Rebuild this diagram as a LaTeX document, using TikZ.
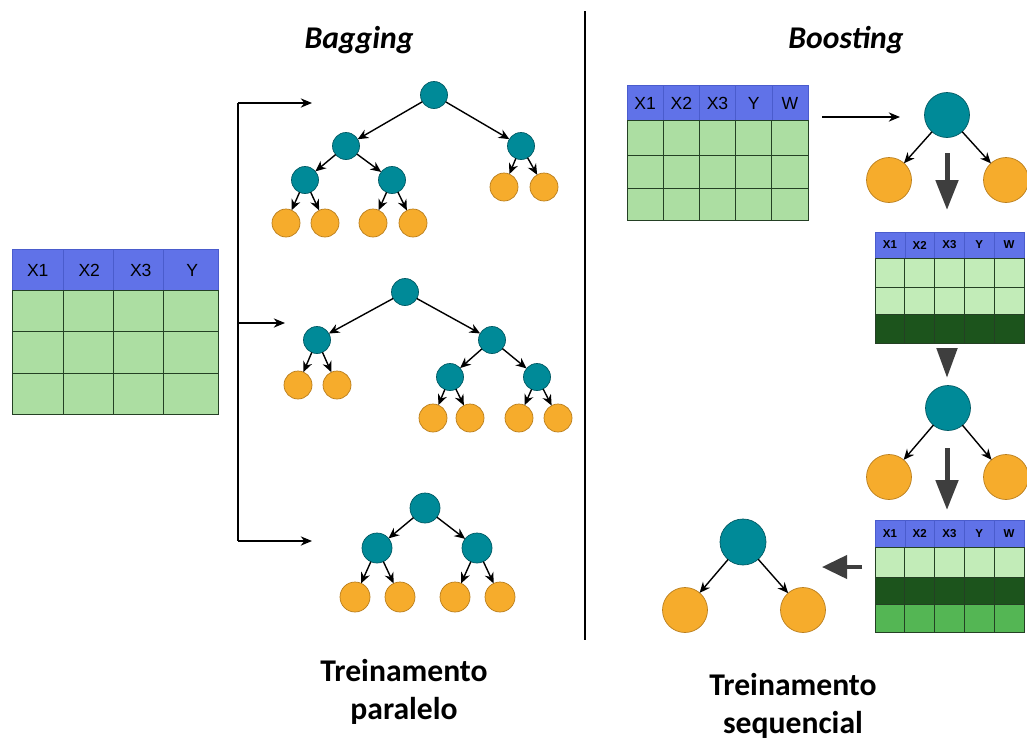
\documentclass[tikz,border=0pt]{standalone}
\usepackage{fontspec}
\setmainfont{Carlito}
\newfontfamily\hdrfont{Liberation Sans}
\usetikzlibrary{arrows.meta,positioning}
\definecolor{hdrblue}{RGB}{96,114,232}
\definecolor{hdrline}{RGB}{74,92,205}
\definecolor{cellgreen}{RGB}{172,222,162}
\definecolor{palegreen}{RGB}{194,236,184}
\definecolor{darkgreen}{RGB}{28,84,28}
\definecolor{midgreen}{RGB}{84,182,84}
\definecolor{rulegreen}{RGB}{36,64,36}
\definecolor{tealnode}{RGB}{0,138,152}
\definecolor{tealline}{RGB}{0,90,100}
\definecolor{leaforange}{RGB}{246,172,44}
\definecolor{leafline}{RGB}{186,126,28}
\definecolor{arrowgray}{RGB}{62,62,62}
\tikzset{
  split/.style={circle,draw=tealline,fill=tealnode,line width=0.6pt,
                minimum size=8.1mm,inner sep=0pt,outer sep=0pt},
  leaf/.style={circle,draw=leafline,fill=leaforange,line width=0.6pt,
               minimum size=8.4mm,inner sep=0pt,outer sep=0pt},
  treearrow/.style={-{Stealth[length=3.2mm,width=2.8mm]},line width=1.2pt},
  flowarrow/.style={-{Stealth[length=3.4mm,width=2.8mm]},line width=1.1pt},
  bigarrow/.style={-{Triangle[length=9mm,width=6.6mm]},line width=1.5mm,draw=arrowgray},
  hdr/.style={font=\hdrfont\fontsize{15}{15}\selectfont,inner sep=0pt},
  hdrsmall/.style={font=\hdrfont\bfseries\fontsize{9.8}{10}\selectfont,inner sep=0pt},
  cellrule/.style={draw=rulegreen,line width=0.7pt},
  title/.style={font=\bfseries\itshape\fontsize{27}{32}\selectfont},
  caption/.style={font=\bfseries\fontsize{27}{33}\selectfont,align=center}
}

\begin{document}
\begin{tikzpicture}[x=0.3mm,y=-0.3mm]
  \useasboundingbox[fill=white] (0,0) rectangle (1027,740);

  % Titles and divider
  \node[title] (bagging) at (359,40) {Bagging};
  \node[title] (boosting) at (846,40) {Boosting};
  \draw[line width=1pt] (585,11) -- (585,640);

  % Training data (bagging)
  \fill[hdrblue] (12,249) rectangle (218,290);
  \fill[cellgreen] (12,290) rectangle (218,414);
  \foreach \x in {63,113,163} \draw[hdrline] (\x,249) -- (\x,290);
  \foreach \x in {63,113,163} \draw[cellrule] (\x,290) -- (\x,414);
  \foreach \y in {331,373} \draw[cellrule] (12,\y) -- (218,\y);
  \draw[hdrline] (12,249) rectangle (218,290);
  \draw[cellrule] (12,290) rectangle (218,414);
  \foreach \t [count=\i] in {X1,X2,X3,Y}
    \node[hdr] (dh\i) at ({12+51.5*(\i-0.5)},270) {\t};

  % Bracket to the three trees
  \coordinate (btop) at (238,103);
  \coordinate (bmid) at (238,323);
  \coordinate (bbot) at (238,541);
  \coordinate (etop) at (312,103);
  \coordinate (emid) at (285,323);
  \coordinate (ebot) at (312,541);
  \draw[line width=1.1pt] (btop) -- (bbot);
  \draw[flowarrow] (btop) -- (etop);
  \draw[flowarrow] (bmid) -- (emid);
  \draw[flowarrow] (bbot) -- (ebot);

  % Tree 1
  \node[split] (r1) at (434,95) {};
  \node[split] (s1a) at (346,146) {};
  \node[split] (s1b) at (521,146) {};
  \node[split] (s1c) at (305,180) {};
  \node[split] (s1d) at (392,180) {};
  \node[leaf] (l1a) at (286,223) {};
  \node[leaf] (l1b) at (325,223) {};
  \node[leaf] (l1c) at (373,223) {};
  \node[leaf] (l1d) at (413,223) {};
  \node[leaf] (l1e) at (504,187) {};
  \node[leaf] (l1f) at (544,187) {};
  \draw[treearrow] (r1) -- (s1a);
  \draw[treearrow] (r1) -- (s1b);
  \draw[treearrow] (s1a) -- (s1c);
  \draw[treearrow] (s1a) -- (s1d);
  \draw[treearrow] (s1c) -- (l1a);
  \draw[treearrow] (s1c) -- (l1b);
  \draw[treearrow] (s1d) -- (l1c);
  \draw[treearrow] (s1d) -- (l1d);
  \draw[treearrow] (s1b) -- (l1e);
  \draw[treearrow] (s1b) -- (l1f);

  % Tree 2
  \node[split] (r2) at (405,292) {};
  \node[split] (s2a) at (317,340) {};
  \node[split] (s2b) at (492,340) {};
  \node[split] (s2c) at (450,377) {};
  \node[split] (s2d) at (537,377) {};
  \node[leaf] (l2a) at (298,385) {};
  \node[leaf] (l2b) at (337,385) {};
  \node[leaf] (l2c) at (433,418) {};
  \node[leaf] (l2d) at (470,418) {};
  \node[leaf] (l2e) at (519,418) {};
  \node[leaf] (l2f) at (558,418) {};
  \draw[treearrow] (r2) -- (s2a);
  \draw[treearrow] (r2) -- (s2b);
  \draw[treearrow] (s2a) -- (l2a);
  \draw[treearrow] (s2a) -- (l2b);
  \draw[treearrow] (s2b) -- (s2c);
  \draw[treearrow] (s2b) -- (s2d);
  \draw[treearrow] (s2c) -- (l2c);
  \draw[treearrow] (s2c) -- (l2d);
  \draw[treearrow] (s2d) -- (l2e);
  \draw[treearrow] (s2d) -- (l2f);

  % Tree 3
  \node[split, minimum size=9mm] (r3) at (425,508) {};
  \node[split, minimum size=9mm] (s3a) at (377,548) {};
  \node[split, minimum size=9mm] (s3b) at (477,548) {};
  \node[leaf, minimum size=9mm] (l3a) at (355,597) {};
  \node[leaf, minimum size=9mm] (l3b) at (400,597) {};
  \node[leaf, minimum size=9mm] (l3c) at (455,597) {};
  \node[leaf, minimum size=9mm] (l3d) at (500,597) {};
  \draw[treearrow] (r3) -- (s3a);
  \draw[treearrow] (r3) -- (s3b);
  \draw[treearrow] (s3a) -- (l3a);
  \draw[treearrow] (s3a) -- (l3b);
  \draw[treearrow] (s3b) -- (l3c);
  \draw[treearrow] (s3b) -- (l3d);

  % Boosting: first data table
  \fill[hdrblue] (627,85) rectangle (808,120);
  \fill[cellgreen] (627,120) rectangle (808,220);
  \foreach \x in {663.2,699.4,735.6,771.8} \draw[hdrline] (\x,85) -- (\x,120);
  \foreach \x in {663.2,699.4,735.6,771.8} \draw[cellrule] (\x,120) -- (\x,220);
  \foreach \y in {155,188} \draw[cellrule] (627,\y) -- (808,\y);
  \draw[hdrline] (627,85) rectangle (808,120);
  \draw[cellrule] (627,120) rectangle (808,220);
  \foreach \t [count=\i] in {X1,X2,X3,Y,W}
    \node[hdr] (ah\i) at ({627+36.2*(\i-0.5)},103) {\t};

  % Boosting: second data table (reweighted)
  \fill[hdrblue] (875,232) rectangle (1024,258);
  \fill[palegreen] (875,258) rectangle (1024,314);
  \fill[darkgreen] (875,314) rectangle (1024,343);
  \foreach \x in {904.8,934.6,964.4,994.2} \draw[hdrline] (\x,232) -- (\x,258);
  \foreach \x in {904.8,934.6,964.4,994.2} \draw[cellrule] (\x,258) -- (\x,343);
  \foreach \y in {287,314} \draw[cellrule] (875,\y) -- (1024,\y);
  \draw[hdrline] (875,232) rectangle (1024,258);
  \draw[cellrule] (875,258) rectangle (1024,343);
  \foreach \t [count=\i] in {X1,X2,X3,Y,W}
    \node[hdrsmall] (bh\i) at ({875+29.8*(\i-0.5)},245) {\t};

  % Boosting: third data table (reweighted)
  \fill[hdrblue] (875,520) rectangle (1024,547);
  \fill[palegreen] (875,547) rectangle (1024,577);
  \fill[darkgreen] (875,577) rectangle (1024,604);
  \fill[midgreen] (875,604) rectangle (1024,632);
  \foreach \x in {904.8,934.6,964.4,994.2} \draw[hdrline] (\x,520) -- (\x,547);
  \foreach \x in {904.8,934.6,964.4,994.2} \draw[cellrule] (\x,547) -- (\x,632);
  \foreach \y in {577,604} \draw[cellrule] (875,\y) -- (1024,\y);
  \draw[hdrline] (875,520) rectangle (1024,547);
  \draw[cellrule] (875,547) rectangle (1024,632);
  \foreach \t [count=\i] in {X1,X2,X3,Y,W}
    \node[hdrsmall] (ch\i) at ({875+29.8*(\i-0.5)},533.5) {\t};

  % Boosting trees
  \node[split, minimum size=13.5mm] (br1) at (947,115) {};
  \node[leaf, minimum size=13.5mm] (bl1a) at (889,180) {};
  \node[leaf, minimum size=13.5mm] (bl1b) at (1006,180) {};
  \draw[treearrow] (br1) -- (bl1a);
  \draw[treearrow] (br1) -- (bl1b);

  \node[split, minimum size=13.5mm] (br2) at (948,408) {};
  \node[leaf, minimum size=13.5mm] (bl2a) at (889,477) {};
  \node[leaf, minimum size=13.5mm] (bl2b) at (1006,477) {};
  \draw[treearrow] (br2) -- (bl2a);
  \draw[treearrow] (br2) -- (bl2b);

  \node[split, minimum size=13.8mm] (bf) at (743,542) {};
  \node[leaf, minimum size=13.5mm] (bfa) at (685,610) {};
  \node[leaf, minimum size=13.5mm] (bfb) at (803,610) {};
  \draw[treearrow] (bf) -- (bfa);
  \draw[treearrow] (bf) -- (bfb);

  % Sequence arrows
  \coordinate (ta) at (822,117);
  \coordinate (tb) at (900,117);
  \draw[flowarrow] (ta) -- (tb);
  \coordinate (ga) at (947,153);
  \coordinate (gb) at (947,210);
  \draw[bigarrow] (ga) -- (gb);
  \coordinate (gc) at (947,348);
  \coordinate (gd) at (947,378);
  \draw[bigarrow, -{Triangle[length=9mm,width=6mm]}] (gc) -- (gd);
  \coordinate (ge) at (947,448);
  \coordinate (gf) at (947,510);
  \draw[bigarrow] (ge) -- (gf);
  \coordinate (gg) at (862,567);
  \coordinate (gh) at (822,567);
  \draw[bigarrow, line width=1.2mm, -{Triangle[length=7.5mm,width=6.9mm]}] (gg) -- (gh);

  % Captions
  \node[caption] (par) at (404,692) {Treinamento\\paralelo};
  \node[caption] (seq) at (793,706) {Treinamento\\sequencial};
\end{tikzpicture}
\end{document}
